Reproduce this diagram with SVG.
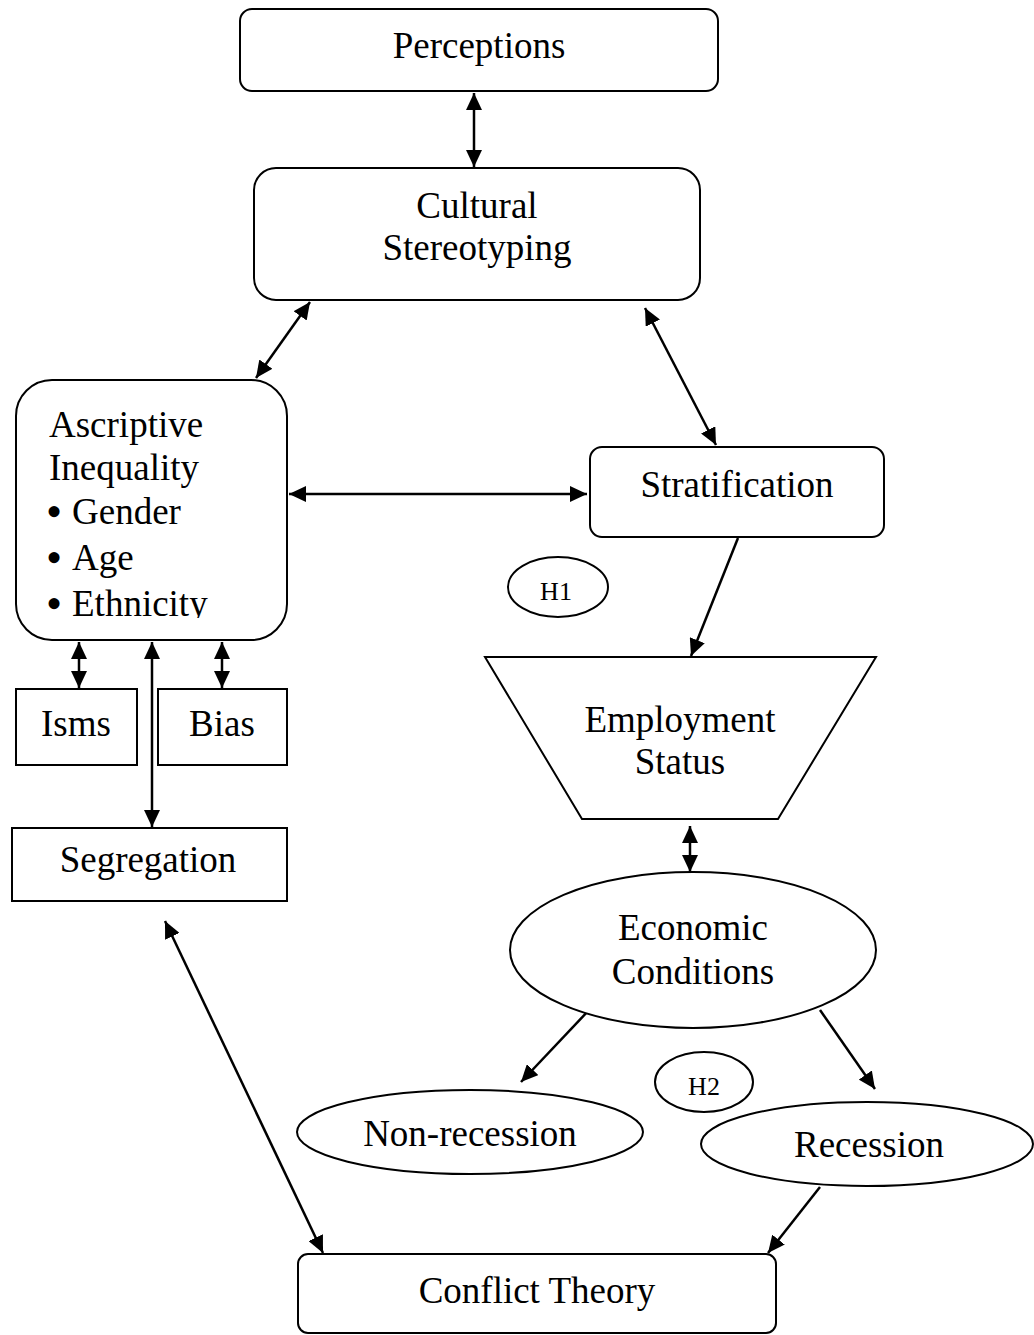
<svg xmlns="http://www.w3.org/2000/svg" width="1034" height="1335" viewBox="0 0 1034 1335">
<style>
.box{fill:#fff;stroke:#000;stroke-width:2}
.t{font-family:"Liberation Serif","Times New Roman",serif;font-size:37px;fill:#000}
.c{text-anchor:middle}
.s{font-size:26px}
.b{font-size:46px}
.ln{stroke:#000;stroke-width:2.5;fill:none}
.bi{marker-start:url(#ah);marker-end:url(#ah)}
.one{marker-end:url(#ah)}
</style>
<defs>
<marker id="ah" markerUnits="userSpaceOnUse" markerWidth="17" markerHeight="16" refX="17" refY="8" orient="auto-start-reverse">
<path d="M0,0 L17,8 L0,16 z" fill="#000"/>
</marker>
<clipPath id="clipAsc"><rect x="16" y="380" width="271" height="238"/></clipPath>
</defs>
<rect width="1034" height="1335" fill="#fff"/>
<g id="connectors">
<line class="ln bi" x1="474" y1="93" x2="474" y2="167"/>
<line class="ln bi" x1="310" y1="302" x2="256" y2="378"/>
<line class="ln bi" x1="645" y1="308" x2="716" y2="445"/>
<line class="ln bi" x1="289" y1="494" x2="587" y2="494"/>
<line class="ln one" x1="738" y1="538" x2="691" y2="656"/>
<line class="ln bi" x1="690" y1="826" x2="690" y2="872"/>
<line class="ln one" x1="590" y1="1009" x2="521" y2="1082"/>
<line class="ln one" x1="820" y1="1010" x2="875" y2="1089"/>
<line class="ln one" x1="820" y1="1187" x2="768" y2="1253"/>
<line class="ln bi" x1="165" y1="921" x2="323" y2="1253"/>
<line class="ln bi" x1="79" y1="642" x2="79" y2="688"/>
<line class="ln bi" x1="222" y1="642" x2="222" y2="688"/>
<line class="ln bi" x1="152" y1="642" x2="152" y2="827"/>
</g>
<g id="perceptions">
<rect class="box" x="240" y="9" width="478" height="82" rx="12"/>
<text class="t c" x="479" y="58">Perceptions</text>
</g>
<g id="cultural">
<rect class="box" x="254" y="168" width="446" height="132" rx="22"/>
<text class="t c" x="477" y="218">Cultural</text>
<text class="t c" x="477" y="260">Stereotyping</text>
</g>
<g id="ascriptive">
<rect class="box" x="16" y="380" width="271" height="260" rx="36"/>
<g clip-path="url(#clipAsc)">
<text class="t" x="49" y="437">Ascriptive</text>
<text class="t" x="49" y="480">Inequality</text>
<text class="t" x="46" y="524"><tspan class="b" dy="3">•</tspan><tspan x="72" dy="-3">Gender</tspan></text>
<text class="t" x="46" y="570"><tspan class="b" dy="3">•</tspan><tspan x="72" dy="-3">Age</tspan></text>
<text class="t" x="46" y="616"><tspan class="b" dy="3">•</tspan><tspan x="72" dy="-3">Ethnicity</tspan></text>
</g>
</g>
<g id="stratification">
<rect class="box" x="590" y="447" width="294" height="90" rx="12"/>
<text class="t c" x="737" y="497">Stratification</text>
</g>
<g id="h1">
<ellipse class="box" cx="558" cy="587" rx="50" ry="30"/>
<text class="t c s" x="556" y="600">H1</text>
</g>
<g id="isms">
<rect class="box" x="16" y="689" width="121" height="76"/>
<text class="t c" x="76" y="736">Isms</text>
</g>
<g id="bias">
<rect class="box" x="158" y="689" width="129" height="76"/>
<text class="t c" x="222" y="736">Bias</text>
</g>
<g id="segregation">
<rect class="box" x="12" y="828" width="275" height="73"/>
<text class="t c" x="148" y="872">Segregation</text>
</g>
<g id="employment">
<polygon class="box" points="485,657 876,657 778,819 582,819"/>
<text class="t c" x="680" y="732">Employment</text>
<text class="t c" x="680" y="774">Status</text>
</g>
<g id="economic">
<ellipse class="box" cx="693" cy="950" rx="183" ry="78"/>
<text class="t c" x="693" y="940">Economic</text>
<text class="t c" x="693" y="984">Conditions</text>
</g>
<g id="h2">
<ellipse class="box" cx="704" cy="1082" rx="49" ry="30"/>
<text class="t c s" x="704" y="1095">H2</text>
</g>
<g id="nonrecession">
<ellipse class="box" cx="470" cy="1132" rx="173" ry="42"/>
<text class="t c" x="470" y="1146">Non-recession</text>
</g>
<g id="recession">
<ellipse class="box" cx="867" cy="1144" rx="166" ry="42"/>
<text class="t c" x="869" y="1157">Recession</text>
</g>
<g id="conflict">
<rect class="box" x="298" y="1254" width="478" height="79" rx="10"/>
<text class="t c" x="537" y="1303">Conflict Theory</text>
</g>
</svg>
